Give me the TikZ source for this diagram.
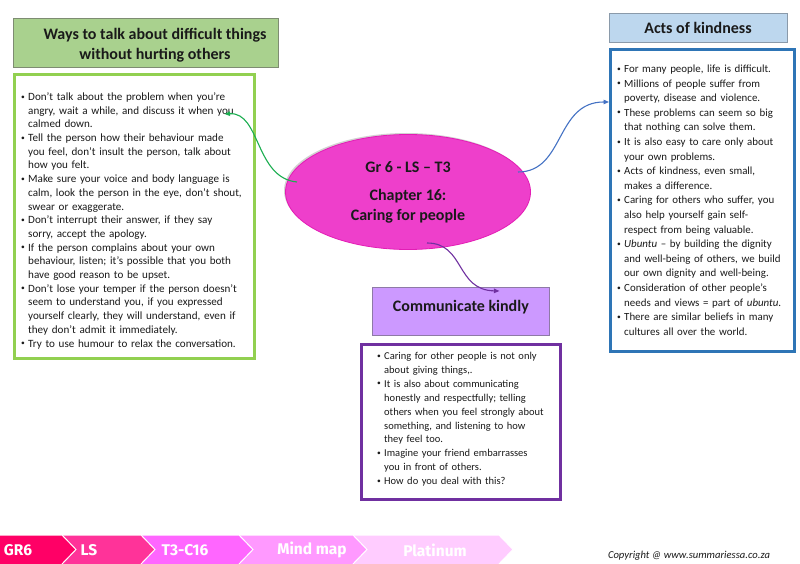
\documentclass[tikz,border=0pt]{standalone}
\usepackage{fontspec}
\setmainfont{Carlito}
\newfontfamily\footfont{Fira Sans}
\usetikzlibrary{arrows.meta,shapes.geometric,shadows}
\definecolor{gfill}{HTML}{A9D18E}
\definecolor{gborder}{HTML}{7E8C72}
\definecolor{gline}{HTML}{92D050}
\definecolor{bfill}{HTML}{BDD7EE}
\definecolor{bborder}{HTML}{8A9AAA}
\definecolor{bline}{HTML}{2E75B6}
\definecolor{pinkfill}{HTML}{EE3FCB}
\definecolor{pinkline}{HTML}{E31DB5}
\definecolor{lavfill}{HTML}{CC99FF}
\definecolor{lavborder}{HTML}{8E7AA6}
\definecolor{pline}{HTML}{7030A0}
\definecolor{garrow}{HTML}{1BAE50}
\definecolor{barrow}{HTML}{4472C4}
\definecolor{parrow}{HTML}{7030A0}
\definecolor{fa}{HTML}{FF0066}
\definecolor{fb}{HTML}{FF3399}
\definecolor{fc}{HTML}{FF66FF}
\definecolor{fd}{HTML}{FF99FF}
\definecolor{fe}{HTML}{FFCCFF}
\definecolor{txt}{HTML}{1A1A1A}
\newcommand\bl{\makebox[7pt][l]{\raisebox{1.4pt}{\fontsize{7.5}{7.5}\selectfont •}}}
\newcommand\cl{\hspace*{7pt}}
\begin{document}
\begin{tikzpicture}[x=1pt,y=-1pt,
  titlebox/.style={draw, line width=0.8pt, inner sep=0pt, anchor=north west, text=txt,
    font=\bfseries\fontsize{16}{20}\selectfont},
  titletxt/.style={inner sep=0pt, align=center, text=txt, font=\bfseries\fontsize{16}{20}\selectfont},
  contentbox/.style={draw, line width=2.6pt, inner sep=0pt, anchor=north west, fill=white},
  txtblock/.style={inner sep=0pt, align=left, anchor=base west, text=txt},
  conn/.style={line width=1.1pt, -{Triangle[length=5.5pt,width=4.5pt]}},
  chev/.style={draw=white, line width=1pt},
  foottxt/.style={text=white, font=\footfont\bfseries\fontsize{15.5}{15.5}\selectfont, inner sep=0pt}
]
\useasboundingbox (0,0) rectangle (800,564);
\fill[white] (0,0) rectangle (800,564);

% titles
\node[titlebox, draw=gborder, fill=gfill, minimum width=265pt, minimum height=49pt] (gt) at (13,18) {};
\node[titletxt] (gtt) at (155,45.5) {Ways to talk about difficult things\\without hurting others};
\node[titlebox, draw=bborder, fill=bfill, minimum width=178pt, minimum height=29pt] (bt) at (609,13) {};
\node[titletxt, anchor=base] (btt) at (698,33.5) {Acts of kindness};

% content boxes
\node[contentbox, draw=gline, minimum width=240pt, minimum height=284pt] (lbox) at (13,73) {};
\node[contentbox, draw=bline, minimum width=184pt, minimum height=302pt] (rbox) at (609,48) {};
\node[contentbox, draw=pline, minimum width=199pt, minimum height=155pt] (bbox) at (360,343) {};

% left text
\node[txtblock, text width=238pt, font=\fontsize{11.1}{13.7}\selectfont] (ltxt) at (21,100.5) {%
\bl Don’t talk about the problem when you’re\\
\cl angry, wait a while, and discuss it when you\\
\cl calmed down.\\
\bl Tell the person how their behaviour made\\
\cl you feel, don’t insult the person, talk about\\
\cl how you felt.\\
\bl Make sure your voice and body language is\\
\cl calm, look the person in the eye, don’t shout,\\
\cl swear or exaggerate.\\
\bl Don’t interrupt their answer, if they say\\
\cl sorry, accept the apology.\\
\bl If the person complains about your own\\
\cl behaviour, listen; it’s possible that you both\\
\cl have good reason to be upset.\\
\bl Don’t lose your temper if the person doesn’t\\
\cl seem to understand you, if you expressed\\
\cl yourself clearly, they will understand, even if\\
\cl they don’t admit it immediately.\\
\bl Try to use humour to relax the conversation.};

% right text
\node[txtblock, text width=182pt, font=\fontsize{10.9}{14.6}\selectfont] (rtxt) at (617,72.5) {%
\bl For many people, life is difficult.\\
\bl Millions of people suffer from\\
\cl poverty, disease and violence.\\
\bl These problems can seem so big\\
\cl that nothing can solve them.\\
\bl It is also easy to care only about\\
\cl your own problems.\\
\bl Acts of kindness, even small,\\
\cl makes a difference.\\
\bl Caring for others who suffer, you\\
\cl also help yourself gain self-\\
\cl respect from being valuable.\\
\bl \textit{Ubuntu} – by building the dignity\\
\cl and well-being of others, we build\\
\cl our own dignity and well-being.\\
\bl Consideration of other people’s\\
\cl needs and views = part of \textit{ubuntu}.\\
\bl There are similar beliefs in many\\
\cl cultures all over the world.};

% bottom text
\node[txtblock, text width=192pt, font=\fontsize{10.5}{13.9}\selectfont] (btxt) at (377,359.5) {%
\bl Caring for other people is not only\\
\cl about giving things,.\\
\bl It is also about communicating\\
\cl honestly and respectfully; telling\\
\cl others when you feel strongly about\\
\cl something, and listening to how\\
\cl they feel too.\\
\bl Imagine your friend embarrasses\\
\cl you in front of others.\\
\bl How do you deal with this?};

% centre ellipse
\node[ellipse, draw=pinkline, line width=0.8pt, fill=pinkfill, minimum width=245pt, minimum height=115pt,
  inner sep=0pt, align=center, text=txt, font=\bfseries\fontsize{16}{20}\selectfont,
  drop shadow={shadow xshift=-1.5pt, shadow yshift=1.5pt, opacity=0.35}] (ell) at (408,192)
  {Gr 6 - LS – T3\\[8pt]Chapter 16:\\Caring for people};

% communicate kindly
\node[titlebox, draw=lavborder, fill=lavfill, minimum width=177pt, minimum height=48pt,
  text height=8pt, text depth=8pt] (comm) at (372,287) {Communicate kindly};

% connectors
\draw[conn, garrow] ([shift={(-111,-10)}]ell.center) .. controls +(-42,-4) and +(36,-2) .. ([shift={(-31,41)}]lbox.north east);
\draw[conn, barrow] ([shift={(110,-20)}]ell.center) .. controls +(47,0) and +(-54,0) .. ([shift={(0,54)}]rbox.north west);
\draw[conn, parrow] ([shift={(19,51)}]ell.center) .. controls +(38,0) and +(-44,-1) .. ([shift={(38.5,4)}]comm.north);

% footer
\fill[fe] (353,535) -- (499,535) -- (513,549.5) -- (499,564) -- (353,564) -- (367,549.5) -- cycle;
\draw[chev] (353,535) -- (499,535) -- (513,549.5) -- (499,564);
\fill[fd] (239,535) -- (353,535) -- (367,549.5) -- (353,564) -- (239,564) -- (253,549.5) -- cycle;
\draw[chev] (239,535) -- (353,535) -- (367,549.5) -- (353,564);
\fill[fc] (141,535) -- (239,535) -- (253,549.5) -- (239,564) -- (141,564) -- (155,549.5) -- cycle;
\draw[chev] (141,535) -- (239,535) -- (253,549.5) -- (239,564);
\fill[fb] (62,535) -- (141,535) -- (155,549.5) -- (141,564) -- (62,564) -- (76,549.5) -- cycle;
\draw[chev] (62,535) -- (141,535) -- (155,549.5) -- (141,564);
\fill[fa] (0,535) -- (62,535) -- (76,549.5) -- (62,564) -- (0,564) -- cycle;
\draw[chev] (0,535) -- (62,535) -- (76,549.5) -- (62,564);
\node[foottxt] (f1) at (18,550) {GR6};
\node[foottxt] (f2) at (89,550) {LS};
\node[foottxt] (f3) at (185,550) {T3-C16};
\node[foottxt] (f4) at (312,550) {Mind map};
\node[foottxt] (f5) at (435,550) {Platinum};

\node[inner sep=0pt, anchor=base, text=txt, font=\itshape\fontsize{10.6}{12}\selectfont] (copy) at (689,558)
  {Copyright @ www.summariessa.co.za};
\end{tikzpicture}
\end{document}
